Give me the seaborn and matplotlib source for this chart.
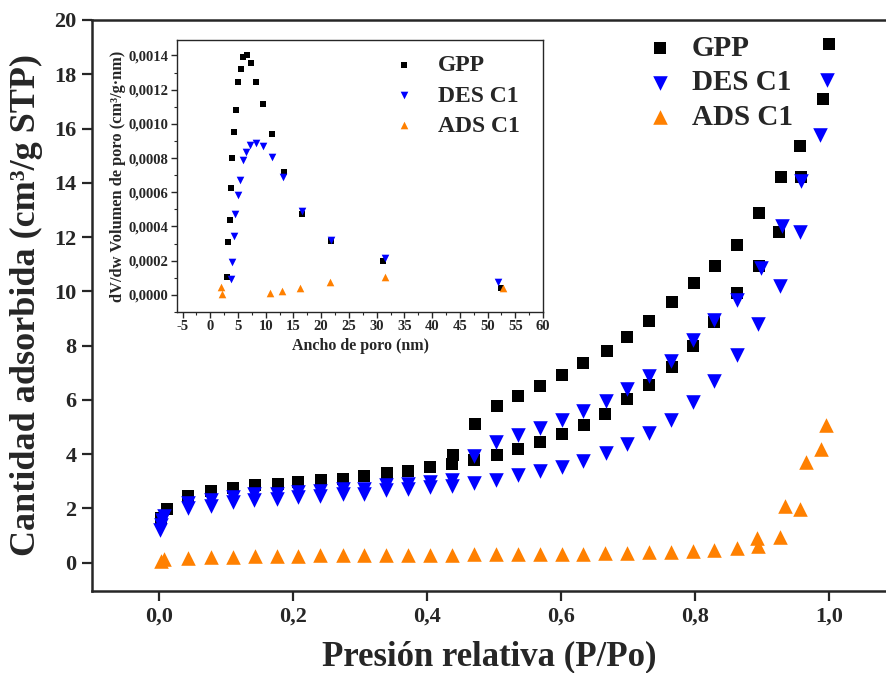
import numpy as np
import pandas as pd
import matplotlib
matplotlib.use("Agg")
import matplotlib.pyplot as plt
import seaborn as sns
from matplotlib.ticker import MultipleLocator

# ---------------- main isotherm data ----------------
gpp_x = [0.003, 0.012, 0.044, 0.078, 0.110, 0.143, 0.177, 0.208, 0.242, 0.274, 0.306, 0.340,
         0.372, 0.405, 0.437, 0.470, 0.504, 0.536, 0.568, 0.601, 0.634, 0.666, 0.699, 0.732,
         0.765, 0.797, 0.828, 0.863, 0.895, 0.925, 0.958, 0.991, 1.000, 0.957, 0.928, 0.895,
         0.863, 0.830, 0.798, 0.766, 0.732, 0.699, 0.668, 0.633, 0.601, 0.568, 0.536, 0.504,
         0.471, 0.439]
gpp_y = [1.65, 1.98, 2.44, 2.63, 2.73, 2.86, 2.90, 2.98, 3.06, 3.09, 3.18, 3.29,
         3.39, 3.52, 3.64, 3.78, 3.98, 4.17, 4.43, 4.73, 5.08, 5.48, 6.03, 6.56,
         7.21, 7.97, 8.85, 9.93, 10.94, 12.20, 14.23, 17.10, 19.12, 15.37, 14.23, 12.88,
         11.69, 10.94, 10.30, 9.60, 8.91, 8.30, 7.81, 7.36, 6.91, 6.52, 6.13, 5.77,
         5.12, 3.97]

des_x = [0.002, 0.003, 0.005, 0.008,
         0.044, 0.078, 0.110, 0.142, 0.176, 0.208, 0.241, 0.274, 0.306, 0.339, 0.371, 0.404,
         0.044, 0.078, 0.110, 0.142, 0.176, 0.208, 0.241, 0.274, 0.306, 0.339, 0.371, 0.404,
         0.437, 0.470, 0.503, 0.536, 0.568, 0.601, 0.633, 0.667, 0.699, 0.731, 0.764, 0.797,
         0.829, 0.863, 0.898, 0.930, 0.958, 0.986, 0.997,
         0.437, 0.470, 0.503, 0.536, 0.568, 0.601, 0.633, 0.667, 0.699, 0.731, 0.764, 0.797,
         0.828, 0.862, 0.894, 0.927, 0.956]
des_y = [1.20, 1.40, 1.55, 1.70,
         2.20, 2.30, 2.42, 2.51, 2.54, 2.60, 2.64, 2.72, 2.72, 2.84, 2.88, 2.96,
         2.00, 2.10, 2.22, 2.31, 2.34, 2.40, 2.44, 2.54, 2.54, 2.66, 2.70, 2.78,
         3.06, 3.94, 4.43, 4.71, 4.96, 5.27, 5.57, 5.97, 6.40, 6.86, 7.44, 8.19,
         8.95, 9.66, 10.85, 12.41, 14.08, 15.77, 17.77,
         2.81, 2.94, 3.06, 3.22, 3.37, 3.52, 3.73, 4.04, 4.38, 4.78, 5.27, 5.91,
         6.68, 7.66, 8.80, 10.20, 12.20]

ads_x = [0.003, 0.008, 0.044, 0.077, 0.110, 0.143, 0.176, 0.208, 0.241, 0.274, 0.306, 0.339,
         0.372, 0.404, 0.437, 0.470, 0.503, 0.536, 0.568, 0.601, 0.633, 0.666, 0.699, 0.731,
         0.764, 0.797, 0.829, 0.862, 0.894, 0.927, 0.956, 0.996, 0.988, 0.965, 0.934, 0.893]
ads_y = [0.05, 0.12, 0.17, 0.20, 0.22, 0.23, 0.24, 0.25, 0.26, 0.27, 0.27, 0.28,
         0.28, 0.29, 0.29, 0.30, 0.30, 0.31, 0.31, 0.32, 0.33, 0.34, 0.35, 0.37,
         0.39, 0.42, 0.45, 0.54, 0.60, 0.95, 1.98, 5.08, 4.19, 3.69, 2.10, 0.91]

# ---------------- inset pore size distribution ----------------
psd_gpp_x = [2.93, 3.23, 3.47, 3.71, 3.95, 4.25, 4.55, 5.03, 5.51, 5.99, 6.59, 7.37, 8.27,
             9.53, 11.1, 13.3, 16.56, 21.85, 31.2, 52.4]
psd_gpp_y = [0.000107, 0.000307, 0.000436, 0.000623, 0.000799, 0.000951, 0.001082, 0.001242,
             0.001322, 0.001389, 0.001404, 0.001354, 0.001246, 0.001115, 0.000943, 0.000721,
             0.000475, 0.000316, 0.000201, 0.000043]
psd_des_x = [3.65, 3.89, 4.19, 4.49, 4.91, 5.39, 5.93, 6.53, 7.25, 8.21, 9.53, 11.1, 13.2,
             16.5, 21.8, 31.5, 51.9]
psd_des_y = [0.000094, 0.000191, 0.000342, 0.000473, 0.000586, 0.000672, 0.000791, 0.000838,
             0.000875, 0.000889, 0.000869, 0.000807, 0.000688, 0.000492, 0.000322, 0.000215,
             0.000074]
psd_ads_x = [1.91, 2.15, 10.8, 12.96, 16.2, 21.5, 31.5, 52.7]
psd_ads_y = [0.000049, 0.000004, 0.000010, 0.000023, 0.000043, 0.000074, 0.000105, 0.000039]

series_names = ["GPP", "DES C1", "ADS C1"]
series_colors = ["#000000", "#0000FF", "#FF8000"]
series_markers = ["s", "v", "^"]

main_xticks = [0.0, 0.2, 0.4, 0.6, 0.8, 1.0]
main_xticklabels = ["0,0", "0,2", "0,4", "0,6", "0,8", "1,0"]
main_yticks = [0, 2, 4, 6, 8, 10, 12, 14, 16, 18, 20]
inset_xticks = [-5, 0, 5, 10, 15, 20, 25, 30, 35, 40, 45, 50, 55, 60]
inset_yticks = [0.0, 0.0002, 0.0004, 0.0006, 0.0008, 0.0010, 0.0012, 0.0014]
inset_yticklabels = ["0,0000", "0,0002", "0,0004", "0,0006", "0,0008", "0,0010", "0,0012", "0,0014"]

# ---------------- styling ----------------
sns.set_style("ticks")
plt.rcParams["font.family"] = ["Liberation Serif", "DejaVu Serif"]
plt.rcParams["font.weight"] = "bold"
plt.rcParams["axes.labelweight"] = "bold"

fig = plt.figure(figsize=(8.86, 6.73), dpi=100)
ax = fig.add_axes([92 / 886, (673 - 591) / 673, (886 - 92) / 886, (591 - 20) / 673])

main_df = pd.concat([
    pd.DataFrame({"x": gpp_x, "y": gpp_y, "serie": "GPP"}),
    pd.DataFrame({"x": des_x, "y": des_y, "serie": "DES C1"}),
    pd.DataFrame({"x": ads_x, "y": ads_y, "serie": "ADS C1"}),
])
main_sizes = [80, 110, 110]
for name, col, mk, sz in zip(series_names, series_colors, series_markers, main_sizes):
    sns.scatterplot(data=main_df[main_df["serie"] == name], x="x", y="y", color=col,
                    marker=mk, s=sz, linewidth=0, ax=ax, label=name, zorder=3)

ax.set_xlim(-0.1, 1.085)
ax.set_ylim(-1.05, 20)
ax.set_xticks(main_xticks, main_xticklabels)
ax.set_yticks(main_yticks, [str(v) for v in main_yticks])
ax.tick_params(axis="both", direction="out", length=7, width=1.6, labelsize=16, pad=4)
for lab in ax.get_xticklabels() + ax.get_yticklabels():
    lab.set_fontweight("bold")
for side in ["left", "bottom", "top"]:
    ax.spines[side].set_linewidth(1.8)
ax.spines["right"].set_visible(False)
ax.set_xlabel("Presión relativa (P/Po)", fontsize=25, fontweight="bold", labelpad=10)
ax.set_ylabel("Cantidad adsorbida (cm³/g STP)", fontsize=26, fontweight="bold", labelpad=8)

leg = ax.legend(loc="upper left", bbox_to_anchor=(0.697, 0.974), frameon=False,
                fontsize=21, handlelength=1.0, handletextpad=0.6, labelspacing=0.26,
                borderpad=0.0, borderaxespad=0.0)
for t in leg.get_texts():
    t.set_fontweight("bold")

# ---------------- inset ----------------
axi = fig.add_axes([177 / 886, (673 - 312) / 673, 366 / 886, 272 / 673])
inset_df = pd.concat([
    pd.DataFrame({"x": psd_gpp_x, "y": psd_gpp_y, "serie": "GPP"}),
    pd.DataFrame({"x": psd_des_x, "y": psd_des_y, "serie": "DES C1"}),
    pd.DataFrame({"x": psd_ads_x, "y": psd_ads_y, "serie": "ADS C1"}),
])
inset_sizes = [22, 30, 30]
for name, col, mk, sz in zip(series_names, series_colors, series_markers, inset_sizes):
    sns.scatterplot(data=inset_df[inset_df["serie"] == name], x="x", y="y", color=col,
                    marker=mk, s=sz, linewidth=0, ax=axi, label=name, zorder=3)
axi.set_xlim(-6, 60)
axi.set_ylim(-0.0001, 0.00149)
axi.set_xticks(inset_xticks, [str(v) for v in inset_xticks])
axi.set_yticks(inset_yticks, inset_yticklabels)
axi.xaxis.set_minor_locator(MultipleLocator(2.5))
axi.yaxis.set_minor_locator(MultipleLocator(0.0001))
axi.tick_params(axis="both", which="major", direction="out", length=4, width=1.0,
                labelsize=10.5, pad=2)
axi.tick_params(axis="both", which="minor", direction="out", length=2.5, width=0.8)
for lab in axi.get_xticklabels() + axi.get_yticklabels():
    lab.set_fontweight("bold")
for side in ["left", "bottom", "top", "right"]:
    axi.spines[side].set_visible(True)
    axi.spines[side].set_linewidth(1.0)
axi.set_xlabel("Ancho de poro (nm)", fontsize=11.5, fontweight="bold", labelpad=3)
axi.set_ylabel("dV/dw Volumen de poro (cm³/g·nm)", fontsize=11.8, fontweight="bold", labelpad=2)
legi = axi.legend(loc="upper left", bbox_to_anchor=(0.587, 0.945), frameon=False,
                  fontsize=17, handlelength=1.0, handletextpad=0.95, labelspacing=0.36,
                  borderpad=0.0, borderaxespad=0.0)
for t in legi.get_texts():
    t.set_fontweight("bold")

fig.savefig("out.png", dpi=100)
